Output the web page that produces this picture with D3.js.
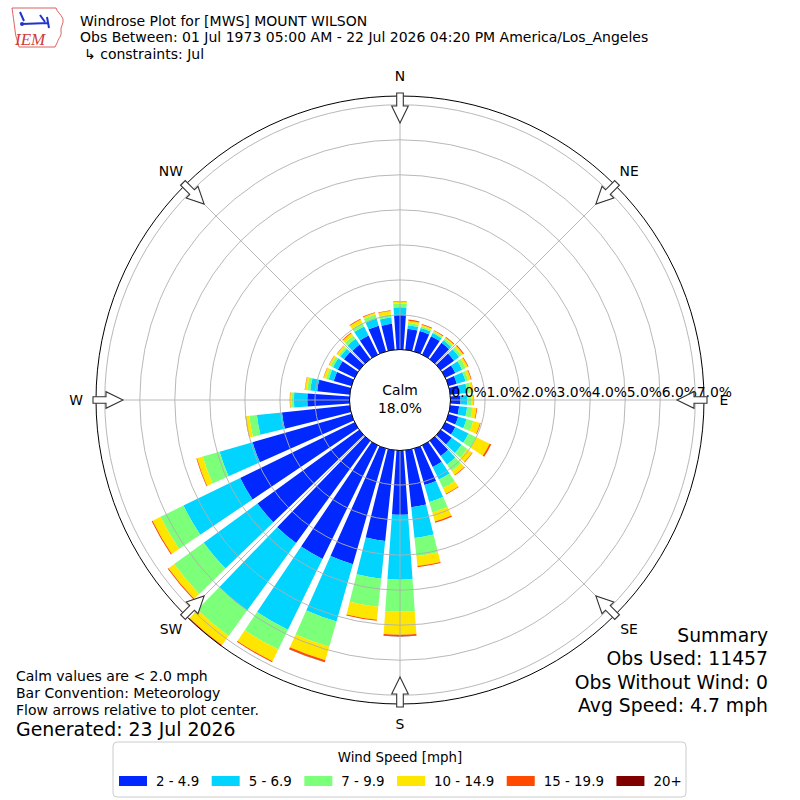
<!DOCTYPE html>
<html>
<head>
<meta charset="utf-8">
<script src="https://cdn.jsdelivr.net/npm/d3@7"></script>
<style>
body { margin: 0; background: #fff; }
svg { font-family: "DejaVu Sans", sans-serif; }
</style>
</head>
<body>
<div id="chart"></div>
<script>
var w = 800, h = 800;
var cx = 400, cy = 400;

// bar directions, degrees clockwise from north
var directions = d3.range(0, 360, 10);

var speedBins = ["2 - 4.9", "5 - 6.9", "7 - 9.9", "10 - 14.9", "15 - 19.9", "20+"];
var binColors = ["#0028ff", "#00d4ff", "#7cff79", "#ffe600", "#ff4a00", "#800000"];

// percent of observations in each speed bin, one value per direction (0..350)
var pct2to5 = [1.00, 0.62, 0.62, 0.60, 0.59, 0.48, 0.33, 0.26, 0.28,
               0.30, 0.27, 0.30, 0.33, 0.40, 0.55, 0.70, 1.10, 1.65,
               1.85, 2.62, 3.45, 3.62, 3.62, 3.60, 3.65, 2.95, 1.96,
               1.22, 0.95, 0.54, 0.55, 0.55, 0.53, 0.62, 0.78, 0.76];
var pct5to7 = [0.22, 0.10, 0.09, 0.10, 0.09, 0.18, 0.22, 0.26, 0.22,
               0.20, 0.23, 0.25, 0.42, 0.35, 0.30, 0.40, 0.50, 0.88,
               1.85, 1.08, 1.70, 2.25, 2.38, 1.90, 1.80, 0.98, 0.72,
               0.38, 0.20, 0.15, 0.15, 0.13, 0.20, 0.29, 0.21, 0.18];
var pct7to10 = [0.11, 0.06, 0.05, 0.04, 0.06, 0.08, 0.11, 0.08, 0.10,
                0.12, 0.15, 0.20, 0.25, 0.20, 0.23, 0.27, 0.31, 0.52,
                0.91, 0.81, 0.75, 0.63, 0.90, 1.04, 0.73, 0.50, 0.22,
                0.06, 0.09, 0.08, 0.08, 0.06, 0.11, 0.11, 0.12, 0.09];
var pct10to15 = [0.05, 0.07, 0.05, 0.03, 0.04, 0.06, 0.07, 0.08, 0.07,
                 0.06, 0.12, 0.20, 0.42, 0.17, 0.14, 0.18, 0.27, 0.29,
                 0.66, 0.37, 0.40, 0.37, 0.32, 0.20, 0.25, 0.17, 0.10,
                 0.05, 0.06, 0.07, 0.05, 0.06, 0.09, 0.11, 0.05, 0.10];
var pct15to20 = [0.01, 0.03, 0.02, 0.02, 0.02, 0.03, 0.02, 0.02, 0.01,
                 0.01, 0.02, 0.02, 0.05, 0.02, 0.02, 0.02, 0.04, 0.03,
                 0.04, 0.03, 0.05, 0.03, 0.03, 0.03, 0.03, 0.02, 0.01,
                 0.01, 0.01, 0.01, 0.01, 0.01, 0.02, 0.02, 0.02, 0.02];
var pct20up = [0, 0, 0, 0, 0, 0, 0, 0, 0,
               0, 0, 0, 0, 0, 0, 0, 0, 0,
               0.01, 0, 0.01, 0, 0, 0, 0, 0, 0,
               0, 0, 0, 0, 0, 0, 0, 0, 0];

var ringTicks = [0, 1, 2, 3, 4, 5, 6, 7];
var compass = ["N", "NE", "E", "SE", "S", "SW", "W", "NW"];
var calmPct = 18.0;

var titleLines = ["Windrose Plot for [MWS] MOUNT WILSON",
                  "Obs Between: 01 Jul 1973 05:00 AM - 22 Jul 2026 04:20 PM America/Los_Angeles",
                  "\u21b3 constraints: Jul"];
var summaryLines = ["Summary", "Obs Used: 11457", "Obs Without Wind: 0", "Avg Speed: 4.7 mph"];
var noteLines = ["Calm values are < 2.0 mph", "Bar Convention: Meteorology",
                 "Flow arrows relative to plot center."];

var series = [pct2to5, pct5to7, pct7to10, pct10to15, pct15to20, pct20up];

// stack the bins per direction
var stacked = [];
directions.forEach(function(d, i) {
  var base = 0;
  series.forEach(function(s, k) {
    stacked.push({dir: d, bin: k, y0: base, y1: base + s[i]});
    base += s[i];
  });
});
var totals = directions.map(function(d, i) {
  return d3.sum(series, function(s) { return s[i]; });
});
var rmax = d3.max(totals);

var r = d3.scaleLinear().domain([0, rmax]).range([50, 304]);
var rad = Math.PI / 180;
var half = 4; // opening 0.8 of a 10 degree sector

var svg = d3.select("#chart").append("svg").attr("width", w).attr("height", h);

// ----- logo
var logo = svg.append("g");
logo.append("path")
  .attr("d", "M12,8 L56,8 C57,12 61,14 63,19 C64,24 60,27 61,31 C62,36 58,39 57,43 L55,47 L19,47 C18,41 15,36 15,30 C14,22 13,15 12,8 Z")
  .attr("fill", "none").attr("stroke", "#d23a3a").attr("stroke-width", 0.8);
logo.append("path").attr("d", "M22,24 L48,23 M40,15 L45,22 M47,17 L49,28 M20,12 L24,21")
  .attr("stroke", "#2233cc").attr("stroke-width", 2).attr("fill", "none");
logo.append("circle").attr("cx", 22).attr("cy", 24).attr("r", 2).attr("fill", "#2233cc");
logo.append("text").attr("x", 15).attr("y", 45).attr("fill", "#d23a3a")
  .attr("font-family", "Liberation Serif, serif").attr("font-style", "italic")
  .attr("font-size", 17).text("IEM");

// ----- titles
svg.selectAll(".title").data(titleLines).enter().append("text")
  .attr("class", "title")
  .attr("x", function(d, i) { return i == 2 ? 84 : 80; })
  .attr("y", function(d, i) { return 26 + i * 16.3; })
  .attr("font-size", 14).attr("fill", "#000")
  .text(function(d) { return d; });

var plot = svg.append("g").attr("transform", "translate(" + cx + "," + cy + ")");

// ----- bars
var arc = d3.arc();
plot.selectAll(".bar").data(stacked.filter(function(d) { return d.y1 > d.y0; }))
  .enter().append("path").attr("class", "bar")
  .attr("d", function(d) {
    return arc({innerRadius: r(d.y0), outerRadius: r(d.y1),
                startAngle: (d.dir - half) * rad, endAngle: (d.dir + half) * rad});
  })
  .attr("fill", function(d) { return binColors[d.bin]; });

// ----- grid on top of bars
plot.selectAll(".ring").data(ringTicks.filter(function(t) { return t > 0 && r(t) < 304; }))
  .enter().append("circle").attr("class", "ring")
  .attr("r", function(d) { return r(d); })
  .attr("fill", "none").attr("stroke", "#b0b0b0").attr("stroke-width", 0.9);

plot.selectAll(".spoke").data(d3.range(0, 360, 45)).enter().append("line")
  .attr("class", "spoke")
  .attr("x1", function(d) { return 50 * Math.sin(d * rad); })
  .attr("y1", function(d) { return -50 * Math.cos(d * rad); })
  .attr("x2", function(d) { return 304 * Math.sin(d * rad); })
  .attr("y2", function(d) { return -304 * Math.cos(d * rad); })
  .attr("stroke", "#b0b0b0").attr("stroke-width", 0.9);

plot.append("circle").attr("r", 304).attr("fill", "none").attr("stroke", "#000").attr("stroke-width", 1);

// calm circle
plot.append("circle").attr("r", 50.5).attr("fill", "#fff").attr("stroke", "#000").attr("stroke-width", 1);
plot.append("text").attr("y", -5).attr("text-anchor", "middle").attr("font-size", 13.9).text("Calm");
plot.append("text").attr("y", 13).attr("text-anchor", "middle").attr("font-size", 13.9)
  .text(calmPct.toFixed(1) + "%");

// radial tick labels along east
plot.selectAll(".rtick").data(ringTicks).enter().append("text")
  .attr("class", "rtick")
  .attr("x", function(d) { return r(d) + 1.5; })
  .attr("y", -3.5)
  .attr("font-size", 13.9)
  .text(function(d) { return d.toFixed(1) + "%"; });

// flow arrows
var arrowPath = "M-3.3,-307 L3.3,-307 L3.3,-294 L8.3,-294 L0,-277 L-8.3,-294 L-3.3,-294 Z";
plot.selectAll(".arrow").data(d3.range(0, 360, 45)).enter().append("path")
  .attr("class", "arrow")
  .attr("d", arrowPath)
  .attr("transform", function(d) { return "rotate(" + d + ")"; })
  .attr("fill", "#fff").attr("stroke", "#333").attr("stroke-width", 1.1);

// compass labels
plot.selectAll(".compass").data(compass).enter().append("text")
  .attr("class", "compass")
  .attr("x", function(d, i) { return 324 * Math.sin(i * 45 * rad); })
  .attr("y", function(d, i) { return -324 * Math.cos(i * 45 * rad) + 5; })
  .attr("text-anchor", "middle").attr("font-size", 13.9)
  .text(function(d) { return d; });

// ----- summary and notes
svg.selectAll(".summary").data(summaryLines).enter().append("text")
  .attr("class", "summary")
  .attr("x", 768).attr("y", function(d, i) { return 642 + i * 23.4; })
  .attr("text-anchor", "end").attr("font-size", 18.8)
  .text(function(d) { return d; });

svg.selectAll(".note").data(noteLines).enter().append("text")
  .attr("class", "note")
  .attr("x", 16).attr("y", function(d, i) { return 681 + i * 17; })
  .attr("font-size", 14)
  .text(function(d) { return d; });
svg.append("text").attr("x", 16).attr("y", 736).attr("font-size", 18.9).text("Generated: 23 Jul 2026");

// ----- legend
var leg = svg.append("g");
leg.append("rect").attr("x", 113).attr("y", 742).attr("width", 573).attr("height", 55)
  .attr("rx", 4).attr("fill", "#fff").attr("stroke", "#cccccc");
leg.append("text").attr("x", 400).attr("y", 762).attr("text-anchor", "middle")
  .attr("font-size", 13.4).text("Wind Speed [mph]");
var xpos = 119;
speedBins.forEach(function(label, k) {
  leg.append("rect").attr("x", xpos).attr("y", 776).attr("width", 28).attr("height", 10)
    .attr("fill", binColors[k]);
  var t = leg.append("text").attr("x", xpos + 37).attr("y", 786).attr("font-size", 13.4).text(label);
  xpos += 37 + t.node().getComputedTextLength() + 12.5;
});
</script>
</body>
</html>
